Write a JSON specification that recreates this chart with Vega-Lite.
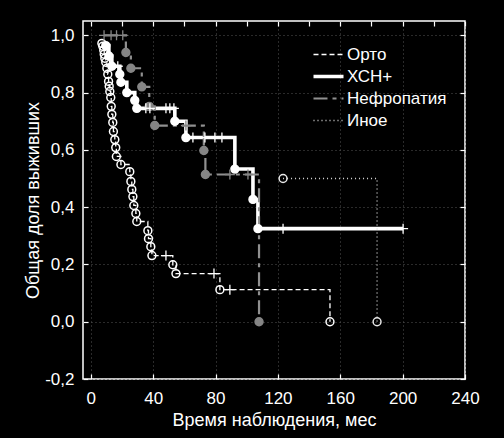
{
  "$schema": "https://vega.github.io/schema/vega-lite/v6.json",
  "width": 382,
  "height": 358,
  "autosize": "none",
  "padding": {"left": 83, "top": 21, "right": 39, "bottom": 59},
  "background": "black",
  "config": {
    "locale": {"number": {"decimal": ",", "thousands": " ", "grouping": [3], "currency": ["", ""], "minus": "-"}},
    "view": {"stroke": "white", "strokeWidth": 1.5},
    "font": "Liberation Sans",
    "axis": {
      "domain": false,
      "tickColor": "white",
      "tickWidth": 1.2,
      "tickSize": -5,
      "labelColor": "white",
      "titleColor": "white",
      "labelFont": "Liberation Sans",
      "titleFont": "Liberation Sans",
      "labelFontSize": 17,
      "titleFontSize": 18,
      "titleFontWeight": "normal",
      "gridColor": "#555555",
      "gridDash": [1, 3],
      "gridWidth": 1
    },
    "legend": {
      "labelColor": "white",
      "labelFont": "Liberation Sans",
      "labelFontSize": 17
    }
  },
  "datasets": {
    "km": [
      {"g": "Орто", "k": "e", "t": 7.1, "s": 0.972},
      {"g": "Орто", "k": "e", "t": 7.7, "s": 0.962},
      {"g": "Орто", "k": "e", "t": 8.3, "s": 0.948},
      {"g": "Орто", "k": "e", "t": 8.6, "s": 0.934},
      {"g": "Орто", "k": "e", "t": 9.0, "s": 0.920},
      {"g": "Орто", "k": "e", "t": 9.6, "s": 0.906},
      {"g": "Орто", "k": "e", "t": 10.3, "s": 0.885},
      {"g": "Орто", "k": "e", "t": 10.9, "s": 0.864},
      {"g": "Орто", "k": "e", "t": 11.4, "s": 0.839},
      {"g": "Орто", "k": "e", "t": 11.8, "s": 0.822},
      {"g": "Орто", "k": "e", "t": 12.2, "s": 0.804},
      {"g": "Орто", "k": "e", "t": 12.8, "s": 0.783},
      {"g": "Орто", "k": "e", "t": 13.1, "s": 0.752},
      {"g": "Орто", "k": "e", "t": 13.5, "s": 0.724},
      {"g": "Орто", "k": "e", "t": 14.1, "s": 0.696},
      {"g": "Орто", "k": "e", "t": 14.5, "s": 0.664},
      {"g": "Орто", "k": "e", "t": 15.4, "s": 0.636},
      {"g": "Орто", "k": "e", "t": 16.0, "s": 0.608},
      {"g": "Орто", "k": "e", "t": 16.4, "s": 0.577},
      {"g": "Орто", "k": "e", "t": 19.3, "s": 0.549},
      {"g": "Орто", "k": "e", "t": 25.0, "s": 0.524},
      {"g": "Орто", "k": "e", "t": 25.7, "s": 0.490},
      {"g": "Орто", "k": "e", "t": 26.3, "s": 0.462},
      {"g": "Орто", "k": "e", "t": 27.0, "s": 0.437},
      {"g": "Орто", "k": "e", "t": 27.6, "s": 0.406},
      {"g": "Орто", "k": "e", "t": 28.9, "s": 0.378},
      {"g": "Орто", "k": "e", "t": 29.5, "s": 0.350},
      {"g": "Орто", "k": "e", "t": 36.6, "s": 0.318},
      {"g": "Орто", "k": "e", "t": 37.0, "s": 0.290},
      {"g": "Орто", "k": "e", "t": 38.5, "s": 0.262},
      {"g": "Орто", "k": "e", "t": 39.2, "s": 0.231},
      {"g": "Орто", "k": "c", "t": 48.2, "s": 0.231},
      {"g": "Орто", "k": "e", "t": 52.6, "s": 0.199},
      {"g": "Орто", "k": "e", "t": 54.6, "s": 0.168},
      {"g": "Орто", "k": "c", "t": 79.0, "s": 0.168},
      {"g": "Орто", "k": "e", "t": 82.8, "s": 0.112},
      {"g": "Орто", "k": "c", "t": 89.2, "s": 0.112},
      {"g": "Орто", "k": "e", "t": 153.4, "s": 0},
      {"g": "ХСН+", "k": "e", "t": 9.6, "s": 0.964},
      {"g": "ХСН+", "k": "e", "t": 11.6, "s": 0.928},
      {"g": "ХСН+", "k": "e", "t": 13.5, "s": 0.892},
      {"g": "ХСН+", "k": "c", "t": 17.3, "s": 0.892},
      {"g": "ХСН+", "k": "e", "t": 18.6, "s": 0.864},
      {"g": "ХСН+", "k": "e", "t": 19.3, "s": 0.836},
      {"g": "ХСН+", "k": "e", "t": 23.1, "s": 0.800},
      {"g": "ХСН+", "k": "e", "t": 28.2, "s": 0.773},
      {"g": "ХСН+", "k": "e", "t": 29.5, "s": 0.745},
      {"g": "ХСН+", "k": "c", "t": 35.3, "s": 0.745},
      {"g": "ХСН+", "k": "c", "t": 37.9, "s": 0.745},
      {"g": "ХСН+", "k": "c", "t": 48.2, "s": 0.745},
      {"g": "ХСН+", "k": "c", "t": 50.7, "s": 0.745},
      {"g": "ХСН+", "k": "c", "t": 53.3, "s": 0.745},
      {"g": "ХСН+", "k": "e", "t": 53.9, "s": 0.700},
      {"g": "ХСН+", "k": "e", "t": 61.0, "s": 0.643},
      {"g": "ХСН+", "k": "c", "t": 65.5, "s": 0.643},
      {"g": "ХСН+", "k": "c", "t": 73.2, "s": 0.643},
      {"g": "ХСН+", "k": "c", "t": 79.6, "s": 0.643},
      {"g": "ХСН+", "k": "c", "t": 84.1, "s": 0.643},
      {"g": "ХСН+", "k": "e", "t": 92.4, "s": 0.533},
      {"g": "ХСН+", "k": "e", "t": 104.0, "s": 0.427},
      {"g": "ХСН+", "k": "e", "t": 107.2, "s": 0.325},
      {"g": "ХСН+", "k": "c", "t": 123.3, "s": 0.325},
      {"g": "ХСН+", "k": "c", "t": 200.3, "s": 0.325},
      {"g": "Нефропатия", "k": "c", "t": 8.5, "s": 1},
      {"g": "Нефропатия", "k": "c", "t": 13.0, "s": 1},
      {"g": "Нефропатия", "k": "c", "t": 16.5, "s": 1},
      {"g": "Нефропатия", "k": "c", "t": 20.5, "s": 1},
      {"g": "Нефропатия", "k": "e", "t": 22.5, "s": 0.940},
      {"g": "Нефропатия", "k": "e", "t": 25.7, "s": 0.885},
      {"g": "Нефропатия", "k": "e", "t": 32.7, "s": 0.820},
      {"g": "Нефропатия", "k": "e", "t": 37.5, "s": 0.752},
      {"g": "Нефропатия", "k": "e", "t": 41.0, "s": 0.685},
      {"g": "Нефропатия", "k": "c", "t": 61.0, "s": 0.685},
      {"g": "Нефропатия", "k": "e", "t": 72.5, "s": 0.598},
      {"g": "Нефропатия", "k": "e", "t": 73.5, "s": 0.514},
      {"g": "Нефропатия", "k": "c", "t": 89.2, "s": 0.514},
      {"g": "Нефропатия", "k": "c", "t": 100.8, "s": 0.514},
      {"g": "Нефропатия", "k": "e", "t": 107.9, "s": 0},
      {"g": "Иное", "k": "e", "t": 123.3, "s": 0.5},
      {"g": "Иное", "k": "e", "t": 183.6, "s": 0}
    ]
  },
  "resolve": {"axis": {"x": "independent", "y": "independent"}},
  "layer": [
    {
      "layer": [
        {
          "data": {"name": "km"},
          "mark": {"type": "line", "interpolate": "step-after"},
          "encoding": {
            "x": {
              "field": "t", "type": "quantitative",
              "scale": {"domain": [-5, 240], "nice": false, "zero": false},
              "axis": {
                "orient": "bottom",
                "values": [0, 20, 40, 60, 80, 100, 120, 140, 160, 180, 200, 220, 240],
                "labelExpr": "datum.value % 40 === 0 ? datum.label : ''",
                "format": "d",
                "grid": true,
                "gridOpacity": {"condition": {"test": "datum.value % 40 === 0", "value": 1}, "value": 0},
                "labelPadding": 16,
                "labelFlush": false,
                "title": "Время наблюдения, мес",
                "titlePadding": 5
              }
            },
            "y": {
              "field": "s", "type": "quantitative",
              "scale": {"domain": [-0.2, 1.05], "nice": false, "zero": false},
              "axis": {
                "orient": "left",
                "values": [-0.2, 0, 0.2, 0.4, 0.6, 0.8, 1.0],
                "format": ".1f",
                "grid": true,
                "labelPadding": 14,
                "labelFlush": false,
                "title": "Общая доля выживших",
                "titlePadding": 2
              }
            },
            "color": {
              "field": "g", "type": "nominal",
              "scale": {"domain": ["Орто", "ХСН+", "Нефропатия", "Иное"], "range": ["#ffffff", "#ffffff", "#909090", "#d8d8d8"]},
              "legend": {"title": null, "orient": "none", "legendX": 237, "legendY": 25, "symbolType": "M-3,0H3", "symbolSize": 100, "labelOffset": 10, "rowPadding": 4, "padding": 0}
            },
            "strokeDash": {
              "field": "g", "type": "nominal",
              "scale": {"domain": ["Орто", "ХСН+", "Нефропатия", "Иное"], "range": [[5, 3], [1, 0], [14, 5, 4, 5], [1, 3]]},
              "legend": {"title": null, "orient": "none", "legendX": 237, "legendY": 25, "symbolType": "M-3,0H3", "symbolSize": 100, "labelOffset": 10, "rowPadding": 4, "padding": 0}
            },
            "strokeWidth": {
              "field": "g", "type": "nominal",
              "scale": {"type": "ordinal", "domain": ["Орто", "ХСН+", "Нефропатия", "Иное"], "range": [1.3, 3.6, 2.2, 1.3]},
              "legend": {"title": null, "orient": "none", "legendX": 237, "legendY": 25, "symbolType": "M-3,0H3", "symbolSize": 100, "labelOffset": 10, "rowPadding": 4, "padding": 0}
            }
          }
        },
        {
          "data": {"name": "km"},
          "transform": [{"filter": "datum.k === 'e'"}],
          "mark": {"type": "point", "shape": "circle", "size": 62, "strokeWidth": 1.5, "opacity": 1},
          "encoding": {
            "x": {"field": "t", "type": "quantitative"},
            "y": {"field": "s", "type": "quantitative"},
            "fill": {
              "field": "g", "type": "nominal",
              "scale": {"domain": ["Орто", "ХСН+", "Нефропатия", "Иное"], "range": ["transparent", "#ffffff", "#858585", "transparent"]},
              "legend": null
            },
            "stroke": {
              "field": "g", "type": "nominal",
              "scale": {"domain": ["Орто", "ХСН+", "Нефропатия", "Иное"], "range": ["#ffffff", "#ffffff", "#858585", "#e8e8e8"]},
              "legend": null
            }
          }
        },
        {
          "data": {"name": "km"},
          "transform": [{"filter": "datum.k === 'c'"}],
          "mark": {"type": "point", "shape": "M-1,0H1M0,-1V1", "size": 100, "strokeWidth": 1.3, "opacity": 1, "filled": false},
          "encoding": {
            "x": {"field": "t", "type": "quantitative"},
            "y": {"field": "s", "type": "quantitative"},
            "stroke": {
              "field": "g", "type": "nominal",
              "scale": {"domain": ["Орто", "ХСН+", "Нефропатия", "Иное"], "range": ["#ffffff", "#ffffff", "#b0b0b0", "#e8e8e8"]},
              "legend": null
            }
          }
        }
      ]
    },
    {
      "data": {"name": "km"},
      "mark": {"type": "point", "opacity": 0},
      "encoding": {
        "x": {
          "field": "t", "type": "quantitative",
          "scale": {"domain": [-5, 240], "nice": false, "zero": false},
          "axis": {"orient": "top", "values": [0, 20, 40, 60, 80, 100, 120, 140, 160, 180, 200, 220, 240], "labels": false, "grid": false, "title": null}
        },
        "y": {
          "field": "s", "type": "quantitative",
          "scale": {"domain": [-0.2, 1.05], "nice": false, "zero": false},
          "axis": {"orient": "right", "values": [-0.2, 0, 0.2, 0.4, 0.6, 0.8, 1.0], "labels": false, "grid": false, "title": null}
        }
      }
    }
  ]
}
